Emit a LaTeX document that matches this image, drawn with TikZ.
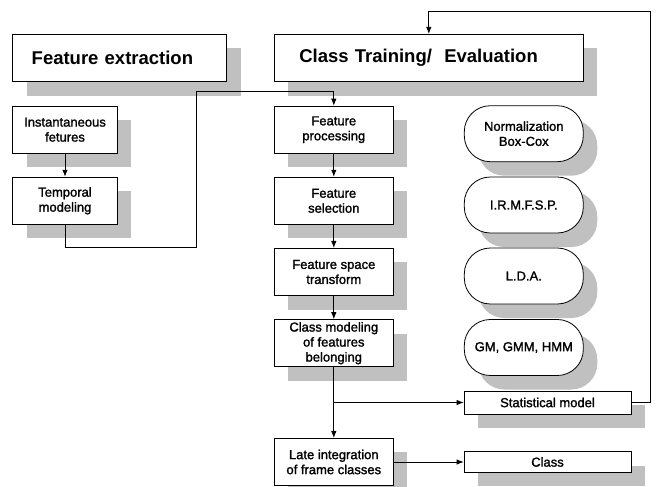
\documentclass[tikz,border=0pt]{standalone}
\usepackage{fontspec}
\setmainfont{Liberation Sans}
\newfontfamily\boxfont{Liberation Sans}[FakeBold=1.5]
\usetikzlibrary{shadows,arrows.meta}
\definecolor{shade}{HTML}{C0C0C0}

\begin{document}
\begin{tikzpicture}[x=1pt,y=-1pt, line width=0.8pt,
  every node/.style={font=\boxfont\fontsize{13}{15}\selectfont},
  shd/.style={drop shadow={shadow xshift=14pt,shadow yshift=-14pt,fill=shade,opacity=1}},
  box/.style={shd,draw,fill=white,align=center,inner sep=0pt,minimum width=119pt,minimum height=47.3pt},
  head/.style={box,font=\bfseries\fontsize{18.5}{22}\selectfont,align=left,minimum height=47.4pt},
  pill/.style={box,rounded corners=26pt,minimum height=56pt},
  result/.style={box,minimum width=167pt},
  arr/.style={-{Latex[length=7pt,width=5.5pt]}}]
\useasboundingbox (0,0) rectangle (656,487);
% headers
\node[head,minimum width=214pt,text width=176pt] (fext) at (119.7,58) {Feature extraction};
\node[head,minimum width=309pt,text width=259pt] (ctrain) at (428.8,58) {Class Training/\ \ Evaluation};
% feature extraction column
\node[box,minimum width=104.6pt] (inst) at (65,129.7) {Instantaneous\\fetures};
\node[box,minimum width=104.6pt] (temp) at (65,200.8) {Temporal\\modeling};
% training column
\node[box] (fproc) at (333.8,129.7) {Feature\\processing};
\node[box] (fsel) at (333.8,200.8) {Feature\\selection};
\node[box] (fspace) at (333.8,272) {Feature space\\transform};
\node[box] (cmod) at (333.8,343.2) {Class modeling\\of features\\belonging};
\node[box] (late) at (333.8,462) {Late integration\\of frame classes};
% methods
\node[pill] (norm) at (523.8,133.7) {Normalization\\Box-Cox};
\node[pill] (irm) at (523.8,205) {I.R.M.F.S.P.};
\node[pill] (lda) at (523.8,276) {L.D.A.};
\node[pill] (gmm) at (523.8,347.5) {GM, GMM, HMM};
% outputs
\node[result,minimum height=23pt] (stat) at (547.5,402.5) {Statistical model};
\node[result,minimum height=20.5pt] (class) at (547.5,462) {Class};
% connectors
\coordinate (j1) at (196,247); \coordinate (j2) at (196,91);
\coordinate (split) at (cmod.south |- stat.west); \coordinate (top) at (650,11);
\draw[arr] (inst) -- (temp);
\draw[arr] (temp.south) |- (j1) -- (j2) -| (fproc.north);
\draw[arr] (fproc) -- (fsel); \draw[arr] (fsel) -- (fspace); \draw[arr] (fspace) -- (cmod);
\draw[arr] (cmod) -- (late); \draw[arr] (split) -- (stat.west);
\draw[arr] (late) -- (class);
\draw[arr] (stat.east) -| (top) -| (ctrain.north);
\end{tikzpicture}
\end{document}
